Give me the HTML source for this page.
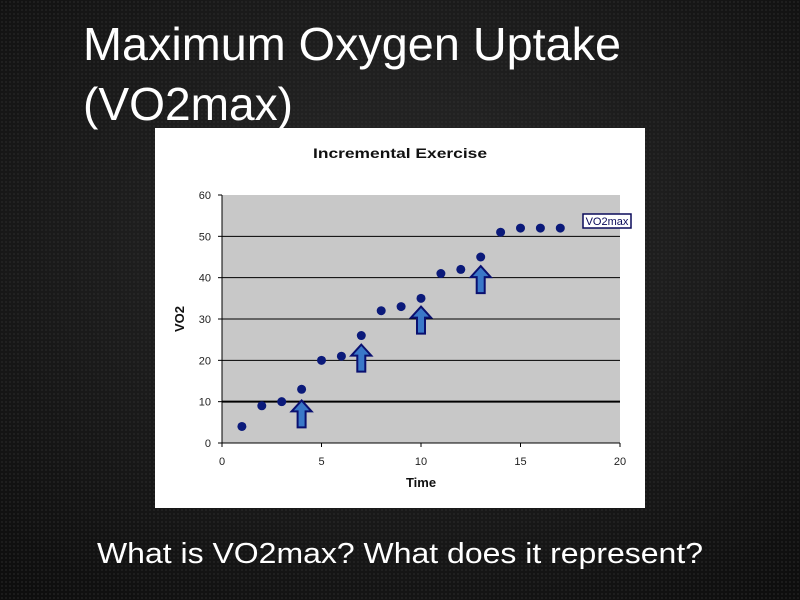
<!DOCTYPE html>
<html><head><meta charset="utf-8"><style>
html,body{margin:0;padding:0;width:800px;height:600px;overflow:hidden;background:#1b1b1b;}
svg{display:block;font-family:"Liberation Sans",sans-serif;}
</style></head><body>
<svg width="800" height="600" viewBox="0 0 800 600">
<defs>
<radialGradient id="bg" cx="50%" cy="40%" r="75%"><stop offset="0" stop-color="#2a2a2a"/><stop offset="1" stop-color="#0e0e0e"/></radialGradient>
<pattern id="dots" width="4" height="4" patternUnits="userSpaceOnUse"><circle cx="2" cy="2" r="0.9" fill="#333"/></pattern>
</defs>
<rect width="800" height="600" fill="url(#bg)"/>
<rect width="800" height="600" fill="url(#dots)" opacity="0.6"/>
<text x="83" y="60" font-size="46" fill="#fff" textLength="538" lengthAdjust="spacingAndGlyphs">Maximum Oxygen Uptake</text>
<text x="83" y="120" font-size="46" fill="#fff" textLength="210" lengthAdjust="spacingAndGlyphs">(VO2max)</text>
<rect x="155" y="128" width="490" height="380" fill="#fff"/>
<text x="313" y="158" font-size="14" font-weight="bold" fill="#111" textLength="174" lengthAdjust="spacingAndGlyphs">Incremental Exercise</text>
<rect x="222" y="195" width="398" height="248" fill="#c8c8c8"/>
<g id="grid"></g><g id="marks"></g>
<text x="184" y="319" font-size="13" font-weight="bold" fill="#111" text-anchor="middle" transform="rotate(-90 184 319)">VO2</text>
<text x="421" y="487" font-size="13" font-weight="bold" fill="#111" text-anchor="middle">Time</text>
<rect x="583" y="214" width="48" height="14" fill="#fff" stroke="#0a0a5a" stroke-width="1.5"/>
<text x="607" y="225" font-size="11" fill="#0a0a5a" text-anchor="middle">VO2max</text>
<text x="97" y="563" font-size="29" fill="#fff" textLength="606" lengthAdjust="spacingAndGlyphs">What is VO2max? What does it represent?</text>
</svg>
<script>
const times=[1,2,3,4,5,6,7,8,9,10,11,12,13,14,15,16,17];
const vo2=[4,9,10,13,20,21,26,32,33,35,41,42,45,51,52,52,52];
const arrowTimes=[4,7,10,13];
const arrowTips=[10.3,23.8,33,42.8];
const xTicks=[0,5,10,15,20];
const yTicks=[0,10,20,30,40,50,60];
const NS='http://www.w3.org/2000/svg';
const X=v=>222+v*(398/20), Y=v=>443-v*(248/60);
const grid=document.getElementById('grid'), marks=document.getElementById('marks');
function mk(tag,attrs,parent){const e=document.createElementNS(NS,tag);for(const k in attrs)e.setAttribute(k,attrs[k]);parent.appendChild(e);return e;}
yTicks.forEach(t=>{
  if(t>0&&t<60){const l=mk('line',{x1:222,x2:620,y1:Y(t),y2:Y(t),stroke:'#000','stroke-width':t===10?2:1},grid);
  
  }
  mk('line',{x1:218,x2:222,y1:Y(t),y2:Y(t),stroke:'#000'},grid);
  const tx=mk('text',{x:211,y:Y(t)+4,'font-size':11,fill:'#222','text-anchor':'end'},grid);tx.textContent=t;
  
  
});
xTicks.forEach(t=>{
  mk('line',{x1:X(t),x2:X(t),y1:443,y2:447,stroke:'#000'},grid);
  const tx=mk('text',{x:X(t),y:465,'font-size':11,fill:'#222','text-anchor':'middle'},grid);tx.textContent=t;
  
  
});
mk('line',{x1:222,x2:222,y1:195,y2:443,stroke:'#000'},grid);
mk('line',{x1:222,x2:620,y1:443,y2:443,stroke:'#000'},grid);
times.forEach((t,i)=>{
  const c=mk('circle',{cx:X(t),cy:Y(vo2[i]),r:4.5,fill:'#0b1a7a'},marks);
  
  
});
arrowTimes.forEach((t,i)=>{
  const x=X(t), y=Y(arrowTips[i]);
  const p=mk('path',{d:`M${x} ${y} L${x+10} ${y+11} L${x+4} ${y+11} L${x+4} ${y+27} L${x-4} ${y+27} L${x-4} ${y+11} L${x-10} ${y+11} Z`,fill:'#3a78c8',stroke:'#0a1070','stroke-width':2},marks);
  
  
});
</script>
</body></html>
